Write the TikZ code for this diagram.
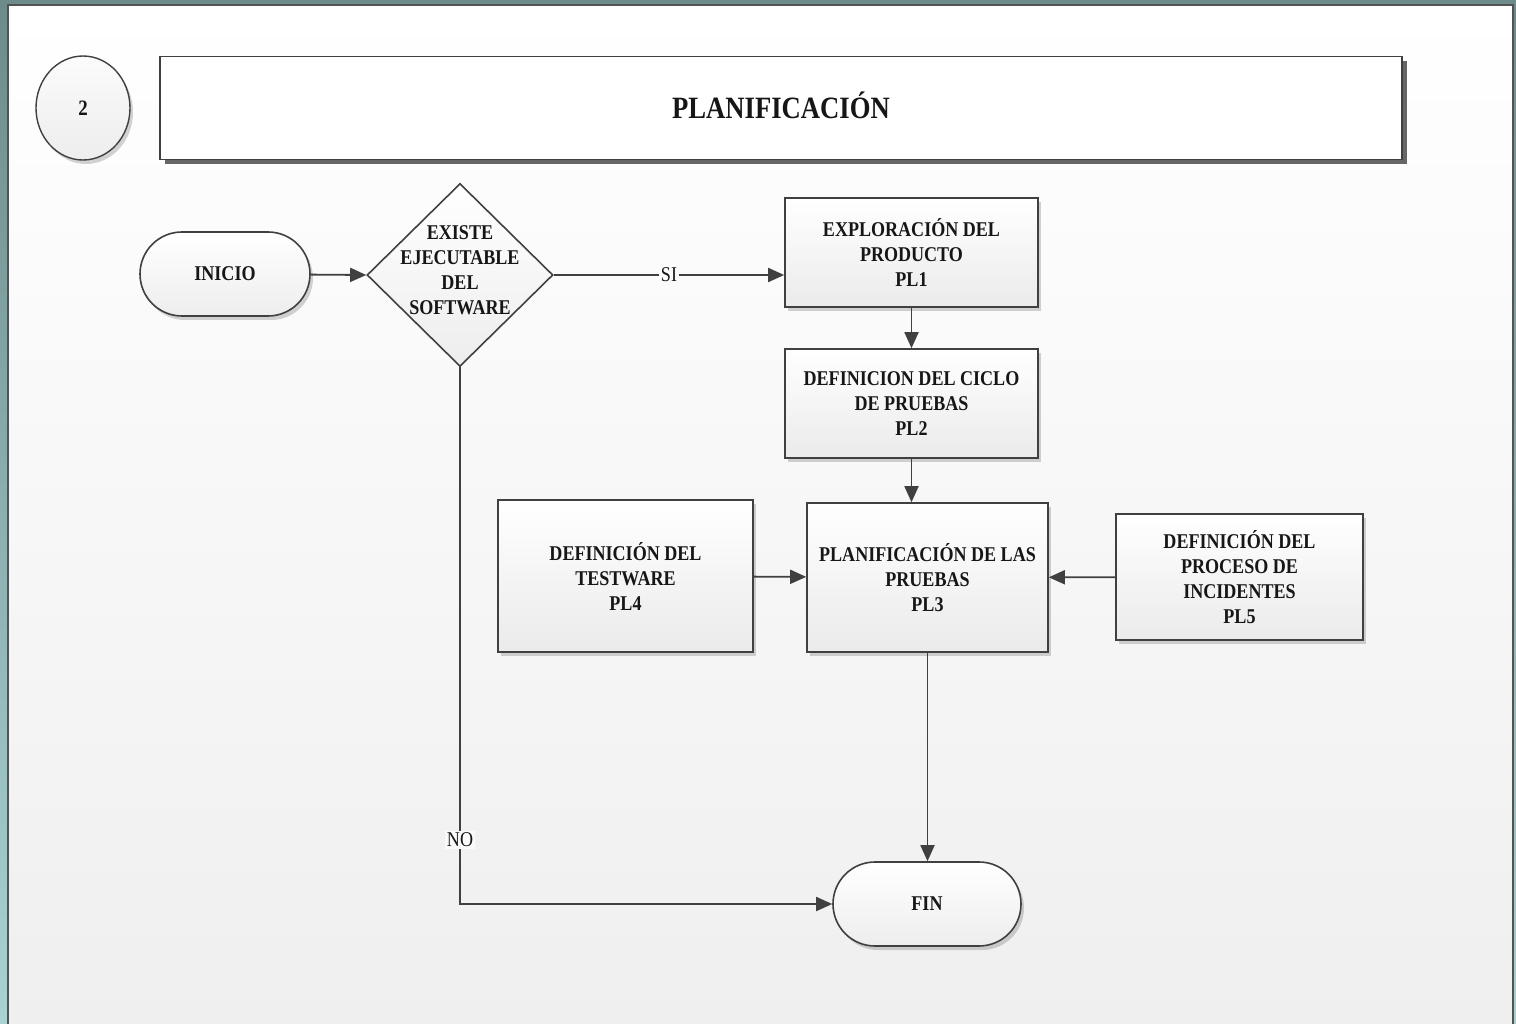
\documentclass[tikz,border=0pt]{standalone}
\usepackage{fontspec}
\setmainfont{Liberation Serif}[FakeStretch=0.86]
\usetikzlibrary{shapes.geometric,shapes.misc,arrows.meta,shadows}

\definecolor{linec}{HTML}{404040}
\definecolor{txt}{HTML}{161616}
\definecolor{frameTop}{HTML}{6E8B8B}
\definecolor{frameBot}{HTML}{A9D2D3}
\definecolor{panelBot}{HTML}{EFEFEF}

\newcommand{\boxfont}{\bfseries\fontsize{21}{25}\selectfont}
\newcommand{\labfont}{\fontsize{21}{25}\selectfont}

\tikzset{
  conn/.style={draw=linec, line width=1.8pt},
  flow/.style={conn, -{Triangle[length=16pt,width=14pt]}},
  softshadow/.style={drop shadow={shadow xshift=3pt, shadow yshift=-4pt, opacity=0.35, fill=gray}},
  stepbox/.style={rectangle, draw=linec, line width=1.6pt, top color=white,
    bottom color=gray!16, softshadow, align=center, font=\boxfont, text=txt,
    inner sep=0pt},
  terminal/.style={rounded rectangle, draw=linec, line width=1.6pt, top color=white,
    bottom color=gray!14, softshadow, font=\boxfont, text=txt, inner sep=0pt},
  decision/.style={diamond, draw=linec, line width=1.6pt, top color=white,
    bottom color=gray!14, inner sep=0pt},
  caption/.style={font=\boxfont, text=txt, align=center},
  branchlabel/.style={font=\labfont, text=txt, inner sep=2pt},
}

\begin{document}
\begin{tikzpicture}[x=1pt,y=-1pt]
  \useasboundingbox (0,0) rectangle (1516,1024);

  % outer frame and page panel
  \shade[top color=frameTop, bottom color=frameBot] (0,0) rectangle (1516,1024);
  \shade[top color=white, bottom color=panelBot] (8,5) rectangle (1513,1030);
  \draw[draw=linec!90, line width=2pt] (8,1030) -- (8,5) -- (1513,5) -- (1513,1030);

  % header: section number and title
  \node[ellipse, draw=linec, line width=1.4pt, top color=gray!3, bottom color=gray!14,
        softshadow, minimum width=94pt, minimum height=104pt, inner sep=0pt,
        font=\bfseries\fontsize{22}{25}\selectfont, text=txt] (num) at (83,108) {2};
  \node[rectangle, draw=linec, line width=1.6pt, fill=white,
        general shadow={fill=gray!60!black, shadow xshift=5pt, shadow yshift=-5pt, opacity=0.85},
        minimum width=1242pt, minimum height=103pt, inner sep=0pt,
        text height=21pt, text depth=0pt,
        font=\bfseries\fontsize{31}{36}\selectfont, text=txt] (title) at (781,108) {PLANIFICACIÓN};

  % flow nodes
  \node[terminal, minimum width=170pt, minimum height=84pt] (inicio) at (225,274) {INICIO};
  \node[decision, minimum width=186pt, minimum height=183pt] (dec) at (460,275) {};
  \node[caption] (dectext) at (460,270) {EXISTE\\EJECUTABLE\\DEL\\SOFTWARE};

  \node[stepbox, minimum width=253pt, minimum height=109pt] (pl1) at (911.5,252.5)
    {EXPLORACIÓN DEL\\PRODUCTO\\PL1};
  \node[stepbox, minimum width=253pt, minimum height=109pt] (pl2) at (911.5,403.5)
    {DEFINICION DEL CICLO\\DE PRUEBAS\\PL2};
  \node[stepbox, minimum width=241pt, minimum height=149pt] (pl3) at (927.5,577.5)
    {PLANIFICACIÓN DE LAS\\PRUEBAS\\PL3};
  \node[stepbox, minimum width=255pt, minimum height=152pt] (pl4) at (625.5,576)
    {DEFINICIÓN DEL\\TESTWARE\\PL4};
  \node[stepbox, minimum width=247pt, minimum height=126pt] (pl5) at (1239.5,577)
    {DEFINICIÓN DEL\\PROCESO DE\\INCIDENTES\\PL5};

  \node[terminal, minimum width=188pt, minimum height=84pt] (fin) at (927,904) {FIN};

  % connectors
  \draw[flow] (inicio) -- (dec.west);
  \draw[flow] (dec.east) -- node[branchlabel, fill=gray!3, pos=0.5] (si) {SI} (dec.east -| pl1.west);
  \draw[flow] (pl1) -- (pl2);
  \draw[flow] (pl2.south) -- (pl2.south |- pl3.north);
  \draw[flow] (pl4) -- (pl3);
  \draw[flow] (pl5) -- (pl3);
  \draw[flow] (pl3.south) -- (pl3.south |- fin.north);
  \draw[flow] (dec.south) |- node[branchlabel, fill=gray!4, pos=0.44] (no) {NO} (fin.west);
\end{tikzpicture}
\end{document}
